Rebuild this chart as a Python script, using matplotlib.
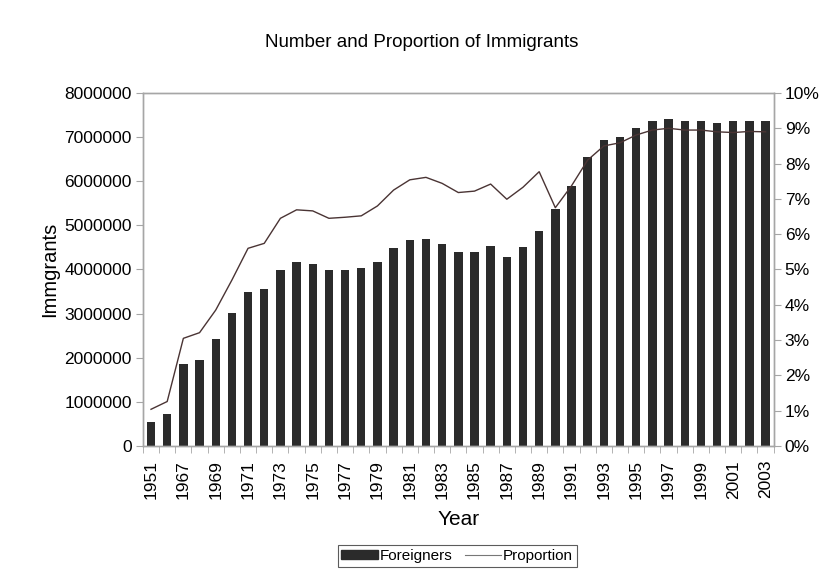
import matplotlib
matplotlib.use("Agg")
import matplotlib.pyplot as plt
from matplotlib.ticker import FuncFormatter, FixedLocator
from matplotlib.patches import Patch
from matplotlib.lines import Line2D

plt.rcParams['font.family'] = ['Liberation Sans', 'DejaVu Sans']

years = [1951, 1961] + list(range(1967, 2004))

foreigners = [
    550000, 720000, 1850000, 1950000, 2420000, 3010000, 3490000, 3550000,
    3990000, 4160000, 4120000, 3980000, 3980000, 4030000, 4180000, 4480000,
    4660000, 4700000, 4570000, 4400000, 4400000, 4540000, 4290000, 4510000,
    4880000, 5360000, 5900000, 6540000, 6930000, 7010000, 7200000, 7360000,
    7410000, 7360000, 7370000, 7330000, 7360000, 7360000, 7360000,
]

proportion = [
    1.04, 1.26, 3.05, 3.21, 3.85, 4.70, 5.60, 5.74, 6.45, 6.69, 6.66, 6.45,
    6.48, 6.52, 6.80, 7.25, 7.54, 7.61, 7.44, 7.18, 7.22, 7.42, 6.99, 7.33,
    7.77, 6.75, 7.37, 8.10, 8.50, 8.59, 8.81, 8.95, 9.00, 8.95, 8.95, 8.90,
    8.88, 8.91, 8.90,
]

spine_col = '#a6a6a6'
bar_col = '#2b2b2b'
line_col = '#4a3434'

fig = plt.figure(figsize=(8.31, 5.74), dpi=100)
ax = fig.add_axes([0.172, 0.223, 0.759, 0.615])
x = list(range(len(years)))

ax.bar(x, foreigners, width=0.52, color=bar_col, zorder=2)
ax.set_xlim(-0.5, len(years) - 0.5)
ax.set_ylim(0, 8000000)
ax.set_yticks(range(0, 8000001, 1000000))
ax.yaxis.set_major_formatter(FuncFormatter(lambda v, p: f"{int(v)}"))

# labels on every other category, tick marks on the category boundaries
ax.xaxis.set_major_locator(FixedLocator(x[::2]))
ax.set_xticklabels([str(y) for y in years[::2]], rotation=90)
ax.xaxis.set_minor_locator(FixedLocator([i - 0.5 for i in range(len(years) + 1)]))
ax.tick_params(axis='x', which='major', length=0, pad=10, labelsize=12.5)
ax.tick_params(axis='x', which='minor', length=5, color=spine_col)
ax.tick_params(axis='y', length=5, color=spine_col, labelsize=12.5, pad=3)

for s in ax.spines.values():
    s.set_color(spine_col)
    s.set_linewidth(1.0)

ax2 = ax.twinx()
ax2.plot(x, proportion, color=line_col, linewidth=1.0, zorder=3)
ax2.set_ylim(0, 10)
ax2.set_yticks(range(0, 11))
ax2.yaxis.set_major_formatter(FuncFormatter(lambda v, p: f"{int(v)}%"))
ax2.tick_params(axis='y', length=5, color=spine_col, labelsize=12.5, pad=3)
for s in ax2.spines.values():
    s.set_color(spine_col)
    s.set_linewidth(1.0)

ax.set_ylabel("Immgrants", fontsize=14.5, labelpad=4)
ax.set_xlabel("Year", fontsize=15, labelpad=8)
fig.suptitle("Number and Proportion of Immigrants", fontsize=13.5, y=0.94, x=0.508)

handles = [Patch(facecolor=bar_col, edgecolor=bar_col),
           Line2D([0], [0], color='#777777', linewidth=0.8)]
leg = fig.legend(handles, ["Foreigners", "Proportion"], loc='center',
                 bbox_to_anchor=(0.55, 0.031), ncol=2, fontsize=11,
                 frameon=True, fancybox=False, edgecolor='#333333',
                 handlelength=2.4, handletextpad=0.1, columnspacing=0.8,
                 borderpad=0.25, handleheight=0.55)
leg.get_frame().set_linewidth(0.8)

fig.savefig("out.png", dpi=100)
